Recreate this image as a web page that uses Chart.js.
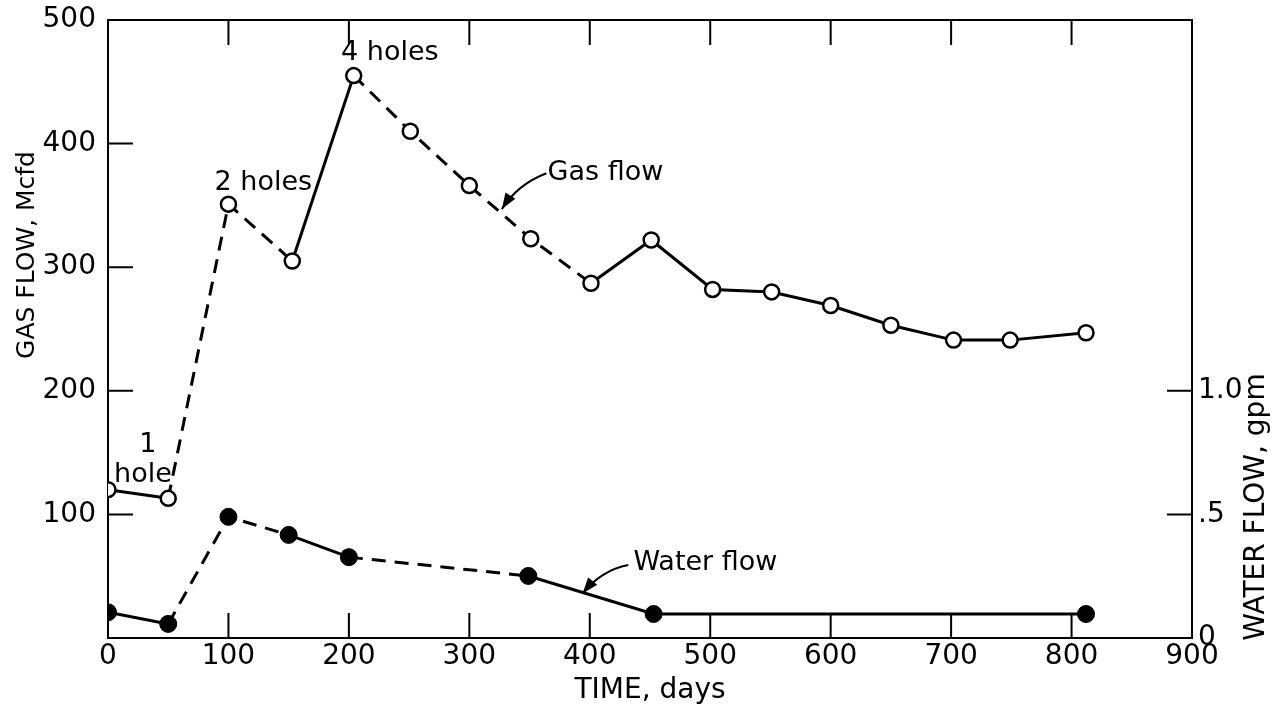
<!DOCTYPE html>
<html>
<head>
<meta charset="utf-8">
<script src="https://cdn.jsdelivr.net/npm/chart.js@4.4.1/dist/chart.umd.min.js"></script>
<style>
  body { margin: 0; background: #fff; }
  #wrap { width: 1285px; height: 712px; }
</style>
</head>
<body>
<div id="wrap"><canvas id="chart"></canvas></div>
<script>
// gas flow (Mcfd), open circles
const gasDays = [0, 50, 100, 153, 204, 251, 300, 351, 401, 451, 502, 551, 600, 650, 702, 749, 812];
const gasFlow = [120, 113, 351, 305, 455, 410, 366, 323, 287, 322, 282, 280, 269, 253, 241, 241, 247];
// true = dashed segment to the next point
const gasDashed = [false, true, true, false, true, true, true, true, false, false, false, false, false, false, false, false];

// water flow (gpm), filled circles
const waterDays = [0, 50, 100, 150, 200, 349, 453, 812];
const waterFlow = [0.104, 0.057, 0.49, 0.417, 0.327, 0.251, 0.097, 0.097];
const waterDashed = [false, true, true, false, true, false, false];

const xTicks = [0, 100, 200, 300, 400, 500, 600, 700, 800, 900];
const gasTicks = [100, 200, 300, 400];
const waterTicks = [0.5, 1.0];

const FONT = "'DejaVu Sans', Verdana, sans-serif";
const DASH = [14, 9];

// notes placed in data units (days, Mcfd)
const notes = [
  { text: '1', x: 33, y: 156 },
  { text: 'hole', x: 29, y: 132 },
  { text: '2 holes', x: 129, y: 368 },
  { text: '4 holes', x: 234, y: 473 },
  { text: 'Gas flow', x: 413, y: 376 },
  { text: 'Water flow', x: 496, y: 61 }
];
// arrows: from, control, to (data units)
const arrows = [
  { from: [364, 376], ctrl: [340, 367], to: [327, 347] },
  { from: [432, 59], ctrl: [410, 55], to: [394, 36] }
];

const toPts = (xs, ys) => xs.map((x, i) => ({ x: x, y: ys[i] }));

const frame = {
  id: 'frame',
  afterDatasetsDraw(chart) {
    const c = chart.ctx;
    const a = chart.chartArea;
    const sx = chart.scales.x, sy = chart.scales.y, sw = chart.scales.y2;
    const len = 25;
    c.save();
    c.strokeStyle = '#000';
    c.lineWidth = 2;
    c.beginPath();
    c.moveTo(a.left, a.top); c.lineTo(a.right, a.top);
    xTicks.slice(1, -1).forEach(v => {
      const px = sx.getPixelForValue(v);
      c.moveTo(px, a.bottom); c.lineTo(px, a.bottom - len);
      c.moveTo(px, a.top); c.lineTo(px, a.top + len);
    });
    gasTicks.forEach(v => {
      const py = sy.getPixelForValue(v);
      c.moveTo(a.left, py); c.lineTo(a.left + len, py);
    });
    waterTicks.forEach(v => {
      const py = sw.getPixelForValue(v);
      c.moveTo(a.right, py); c.lineTo(a.right - len, py);
    });
    c.stroke();

    // notes
    c.fillStyle = '#000';
    c.font = '27px ' + FONT;
    c.textAlign = 'center';
    c.textBaseline = 'middle';
    notes.forEach(n => c.fillText(n.text, sx.getPixelForValue(n.x), sy.getPixelForValue(n.y)));

    // arrows
    arrows.forEach(ar => {
      const p0 = [sx.getPixelForValue(ar.from[0]), sy.getPixelForValue(ar.from[1])];
      const p1 = [sx.getPixelForValue(ar.ctrl[0]), sy.getPixelForValue(ar.ctrl[1])];
      const p2 = [sx.getPixelForValue(ar.to[0]), sy.getPixelForValue(ar.to[1])];
      c.lineWidth = 2;
      c.beginPath();
      c.moveTo(p0[0], p0[1]);
      c.quadraticCurveTo(p1[0], p1[1], p2[0], p2[1]);
      c.stroke();
      const ang = Math.atan2(p2[1] - p1[1], p2[0] - p1[0]);
      c.beginPath();
      c.moveTo(p2[0], p2[1]);
      c.lineTo(p2[0] - 17 * Math.cos(ang - 0.35), p2[1] - 17 * Math.sin(ang - 0.35));
      c.lineTo(p2[0] - 17 * Math.cos(ang + 0.35), p2[1] - 17 * Math.sin(ang + 0.35));
      c.closePath();
      c.fill();
    });

    // side titles
    c.font = '25px ' + FONT;
    c.translate(27, 255);
    c.rotate(-Math.PI / 2);
    c.fillText('GAS FLOW, Mcfd', 0, 0);
    c.restore();
    c.save();
    c.fillStyle = '#000';
    c.font = '28px ' + FONT;
    c.textAlign = 'center';
    c.textBaseline = 'middle';
    c.translate(1257, 507);
    c.rotate(-Math.PI / 2);
    c.fillText('WATER FLOW, gpm', 0, 0);
    c.restore();
  }
};

const fitSide = w => s => { s.width = w; s.paddingTop = 0; s.paddingBottom = 0; };

new Chart(document.getElementById('chart'), {
  type: 'line',
  data: {
    datasets: [
      {
        label: 'Gas flow',
        data: toPts(gasDays, gasFlow),
        yAxisID: 'y',
        borderColor: '#000',
        borderWidth: 3,
        pointRadius: 7.5,
        pointBorderWidth: 2.5,
        pointBackgroundColor: '#fff',
        pointBorderColor: '#000',
        segment: { borderDash: ctx => gasDashed[ctx.p0DataIndex] ? DASH : undefined }
      },
      {
        label: 'Water flow',
        data: toPts(waterDays, waterFlow),
        yAxisID: 'y2',
        borderColor: '#000',
        borderWidth: 3,
        pointRadius: 8.5,
        pointBorderWidth: 1,
        pointBackgroundColor: '#000',
        pointBorderColor: '#000',
        segment: { borderDash: ctx => waterDashed[ctx.p0DataIndex] ? DASH : undefined }
      }
    ]
  },
  options: {
    responsive: true,
    maintainAspectRatio: false,
    animation: false,
    layout: { padding: { top: 20, left: 0, right: 0, bottom: 0 } },
    plugins: { legend: { display: false }, tooltip: { enabled: false } },
    scales: {
      x: {
        type: 'linear',
        min: 0, max: 900,
        afterBuildTicks: s => { s.ticks = xTicks.map(v => ({ value: v })); },
        afterFit: s => { s.height = 74; s.paddingLeft = 0; s.paddingRight = 0; },
        grid: { display: true, drawOnChartArea: false, drawTicks: false },
        border: { display: true, color: '#000', width: 2 },
        ticks: { color: '#000', font: { family: FONT, size: 28 }, padding: 2, maxRotation: 0 },
        title: { display: true, text: 'TIME, days', color: '#000', font: { family: FONT, size: 28 }, padding: { top: -8 } }
      },
      y: {
        position: 'left',
        min: 0, max: 500,
        afterBuildTicks: s => { s.ticks = [0, 100, 200, 300, 400, 500].map(v => ({ value: v })); },
        afterFit: fitSide(108),
        grid: { display: true, drawOnChartArea: false, drawTicks: false },
        border: { display: true, color: '#000', width: 2 },
        ticks: { color: '#000', font: { family: FONT, size: 28 }, padding: 12, callback: v => v === 0 ? '' : v }
      },
      y2: {
        position: 'right',
        min: 0, max: 2.5,
        afterBuildTicks: s => { s.ticks = [0, 0.5, 1.0].map(v => ({ value: v })); },
        afterFit: fitSide(93),
        grid: { display: true, drawOnChartArea: false, drawTicks: false },
        border: { display: true, color: '#000', width: 2 },
        ticks: {
          color: '#000', font: { family: FONT, size: 28 }, padding: 6,
          callback: v => v === 0 ? '0' : v === 0.5 ? '.5' : '1.0'
        }
      }
    }
  },
  plugins: [frame]
});
</script>
</body>
</html>
